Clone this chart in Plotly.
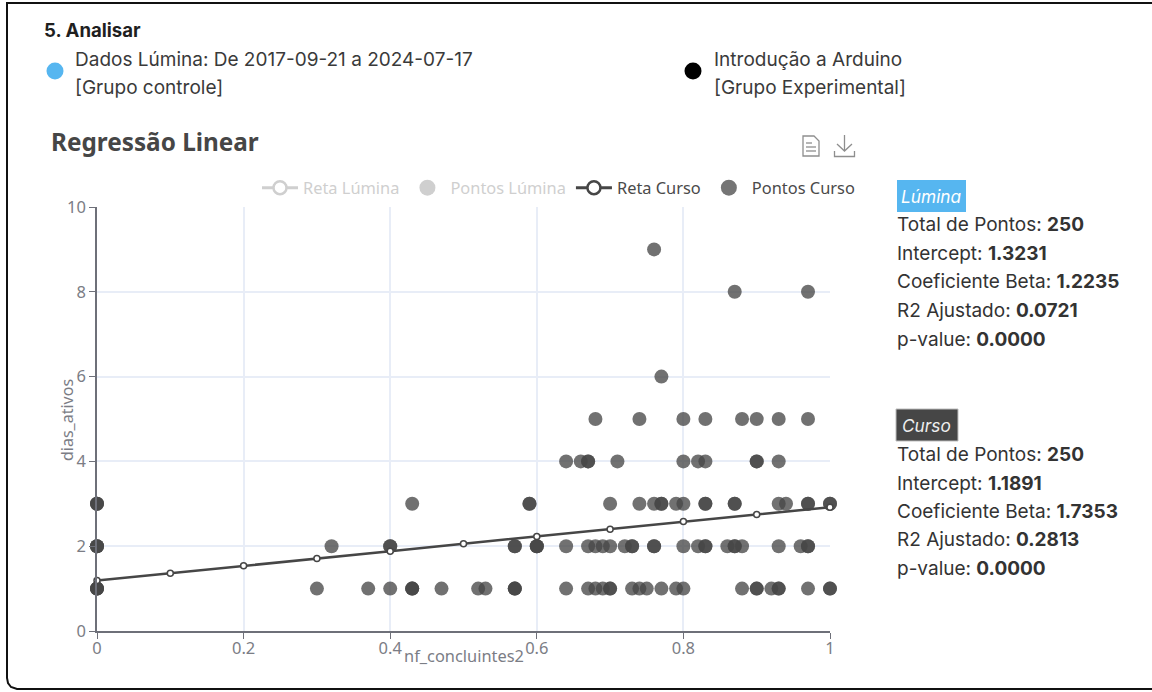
import plotly.graph_objects as go

W, H = 1152, 692
L, R, T, B = 97, 830, 207, 631

# ---- data ----
reta_x = [0, 0.1, 0.2, 0.3, 0.4, 0.5, 0.6, 0.7, 0.8, 0.9, 1]
reta_y = [1.19, 1.36, 1.54, 1.71, 1.88, 2.06, 2.23, 2.40, 2.58, 2.75, 2.92]

pontos_y1 = [0, 0, 0, 0, .30, .37, .40, .43, .43, .43, .47, .52, .53, .57, .57, .57, .64, .67, .68, .69,
             .70, .70, .73, .74, .75, .77, .79, .80, .88, .90, .90, .92, .93, .93, .97, 1, 1]
pontos_y2 = [0, 0, 0, .32, .40, .40, .57, .57, .60, .60, .60, .64, .67, .68, .69, .70, .72, .73, .73,
             .76, .76, .80, .82, .83, .83, .86, .87, .87, .88, .93, .96, .97, .97]
pontos_y3 = [0, 0, 0, .43, .59, .59, .70, .74, .76, .77, .77, .79, .80, .83, .83, .87, .87, .93, .94,
             .97, .97, 1, 1]
pontos_y4 = [.64, .66, .67, .67, .71, .80, .82, .83, .90, .90, .93]
pontos_y5 = [.68, .74, .80, .83, .88, .90, .93, .97]
pontos_y6 = [.77]
pontos_y8 = [.87, .97]
pontos_y9 = [.76]

linhas = {1: pontos_y1, 2: pontos_y2, 3: pontos_y3, 4: pontos_y4,
          5: pontos_y5, 6: pontos_y6, 8: pontos_y8, 9: pontos_y9}
pontos_x = [x for k in linhas for x in linhas[k]]
pontos_y = [k for k in linhas for _ in linhas[k]]

x_ticks = [0, 0.2, 0.4, 0.6, 0.8, 1]
y_ticks = [0, 2, 4, 6, 8, 10]

stats_lumina = [("Total de Pontos: ", "250"), ("Intercept: ", "1.3231"), ("Coeficiente Beta: ", "1.2235"),
                ("R2 Ajustado: ", "0.0721"), ("p-value: ", "0.0000")]
stats_curso = [("Total de Pontos: ", "250"), ("Intercept: ", "1.1891"), ("Coeficiente Beta: ", "1.7353"),
               ("R2 Ajustado: ", "0.2813"), ("p-value: ", "0.0000")]

DARK = "#464646"
GREY = "#cfcfcf"
BLUE = "#56b6f0"
CHART_FONT = "Noto Sans"
UI_FONT = "Inter"
AXIS_TEXT = "#7b7d85"


def px(x):
    return (x - L) / (R - L)


def py(y):
    return (B - y) / (B - T)


fig = go.Figure()

# legend entries
fig.add_trace(go.Scatter(x=[None], y=[None], mode="lines+markers",
                         name=f'<span style="color:{GREY}">Reta Lúmina</span>',
                         line=dict(color=GREY, width=3),
                         marker=dict(size=13, color="white", line=dict(color=GREY, width=2.5))))
fig.add_trace(go.Scatter(x=[None], y=[None], mode="markers",
                         name=f'<span style="color:{GREY}">Pontos Lúmina</span>',
                         marker=dict(size=18, color=GREY)))
fig.add_trace(go.Scatter(x=[None], y=[None], mode="lines+markers", name="Reta Curso",
                         line=dict(color=DARK, width=3),
                         marker=dict(size=13, color="white", line=dict(color=DARK, width=2.5))))
fig.add_trace(go.Scatter(x=[None], y=[None], mode="markers", name="Pontos Curso",
                         marker=dict(size=18, color="#757575")))

# data
fig.add_trace(go.Scatter(x=pontos_x, y=pontos_y, mode="markers", showlegend=False, cliponaxis=False,
                         marker=dict(size=14, color="rgba(70,70,70,0.77)", line=dict(width=0))))
fig.add_trace(go.Scatter(x=reta_x, y=reta_y, mode="lines+markers", showlegend=False, cliponaxis=False,
                         line=dict(color=DARK, width=2.5),
                         marker=dict(size=6, color="white", line=dict(color=DARK, width=1.5))))

annotations = []


def text(x, y, s, size, color="#333333", font=UI_FONT, anchor="left", angle=0):
    annotations.append(dict(x=px(x), y=py(y), xref="paper", yref="paper", text=s, showarrow=False,
                            xanchor=anchor, yanchor="middle", borderpad=0, borderwidth=0, textangle=angle,
                            font=dict(family=font, size=size, color=color)))


text(44, 30, "<b>5. Analisar</b>", 18.6, "#1f1f1f")
text(75, 59, "Dados Lúmina: De 2017-09-21 a 2024-07-17", 19, "#3a3a3a")
text(75, 88, "[Grupo controle]", 19, "#3a3a3a")
text(714, 59, "Introdução a Arduino", 19, "#3a3a3a")
text(714, 88, "[Grupo Experimental]", 19, "#3a3a3a")
text(51, 142, "<b>Regressão Linear</b>", 24.3, DARK, "Noto Sans")

text(901, 196, "<i>Lúmina</i>", 17.3, "white")
text(902, 425, "<i>Curso</i>", 17.3, "#eeeeee")
for rows, ys in ((stats_lumina, [224, 253, 281, 310, 339]), (stats_curso, [454, 483, 511, 539, 568])):
    for (k, v), y in zip(rows, ys):
        text(897, y, f"{k}<b>{v}</b>", 19, "#333333")

text(464, 655, "nf_concluintes2", 16.4, AXIS_TEXT, CHART_FONT, "center")
text(67, 420, "dias_ativos", 16, AXIS_TEXT, CHART_FONT, "center", -90)


def rect(x0, y0, x1, y1, fill, line=None, w=0):
    return dict(type="rect", xref="paper", yref="paper", x0=px(x0), x1=px(x1), y0=py(y0), y1=py(y1),
                fillcolor=fill, line=dict(color=line or fill, width=w))


def circle(cx, cy, r, fill):
    return dict(type="circle", xref="paper", yref="paper", x0=px(cx - r), x1=px(cx + r),
                y0=py(cy - r), y1=py(cy + r), fillcolor=fill, line=dict(width=0))


def path(points, color, w=1.3, close=False):
    d = "M " + " L ".join(f"{px(a):.5f},{py(b):.5f}" for a, b in points) + (" Z" if close else "")
    return dict(type="path", xref="paper", yref="paper", path=d, line=dict(color=color, width=w))


# outer frame (open to the right, rounded bottom-left corner)
frame = [(1152, 3), (7, 3), (7, 678), (8, 683), (11, 687), (17, 689), (1152, 689)]
ICON = "#8e8e8e"
shapes = [
    path(frame, "#111111", 2),
    circle(55, 71, 8.5, BLUE),
    circle(693, 71, 8.5, "#000000"),
    rect(897, 180, 966, 212, BLUE),
    rect(896, 409, 958, 441, DARK, "#bdbdbd", 1),
    # document icon
    path([(803, 136), (814, 136), (819, 141), (819, 156), (803, 156)], ICON, close=True),
    path([(806, 143), (812, 143)], ICON), path([(806, 147), (816, 147)], ICON), path([(806, 151), (816, 151)], ICON),
    # download icon
    path([(844.5, 135), (844.5, 151)], ICON), path([(837, 144), (844.5, 151), (852, 144)], ICON),
    path([(834.5, 151), (834.5, 156.5), (854.5, 156.5), (854.5, 151)], ICON),
]

axis_common = dict(showline=True, linecolor="#6e7079", linewidth=1.5, ticks="outside", ticklen=6,
                   tickcolor="#6e7079", tickwidth=1, showgrid=True, gridcolor="#e8edf7", gridwidth=1.5,
                   zeroline=False, tickfont=dict(family=CHART_FONT, size=16.5, color=AXIS_TEXT))

fig.update_layout(
    width=W, height=H, autosize=False,
    margin=dict(l=L, r=W - R, t=T, b=H - B),
    paper_bgcolor="white", plot_bgcolor="white",
    font=dict(family=CHART_FONT),
    xaxis=dict(range=[0, 1], tickvals=x_ticks, ticktext=[str(v) for v in x_ticks],
               ticklabelstandoff=-5, **axis_common),
    yaxis=dict(range=[0, 10], tickvals=y_ticks, ticktext=[str(v) for v in y_ticks], **axis_common),
    legend=dict(orientation="h", x=px(860), xanchor="right", y=py(188), yanchor="middle",
                font=dict(family=CHART_FONT, size=16.4, color="#4a4a4a"), itemwidth=36,
                bgcolor="rgba(0,0,0,0)", traceorder="normal", itemsizing="trace"),
    annotations=annotations,
    shapes=shapes,
)

fig.write_html("out.html", config=dict(displayModeBar=False),
               post_script="document.body.style.margin='0';document.documentElement.style.overflow='hidden';")
